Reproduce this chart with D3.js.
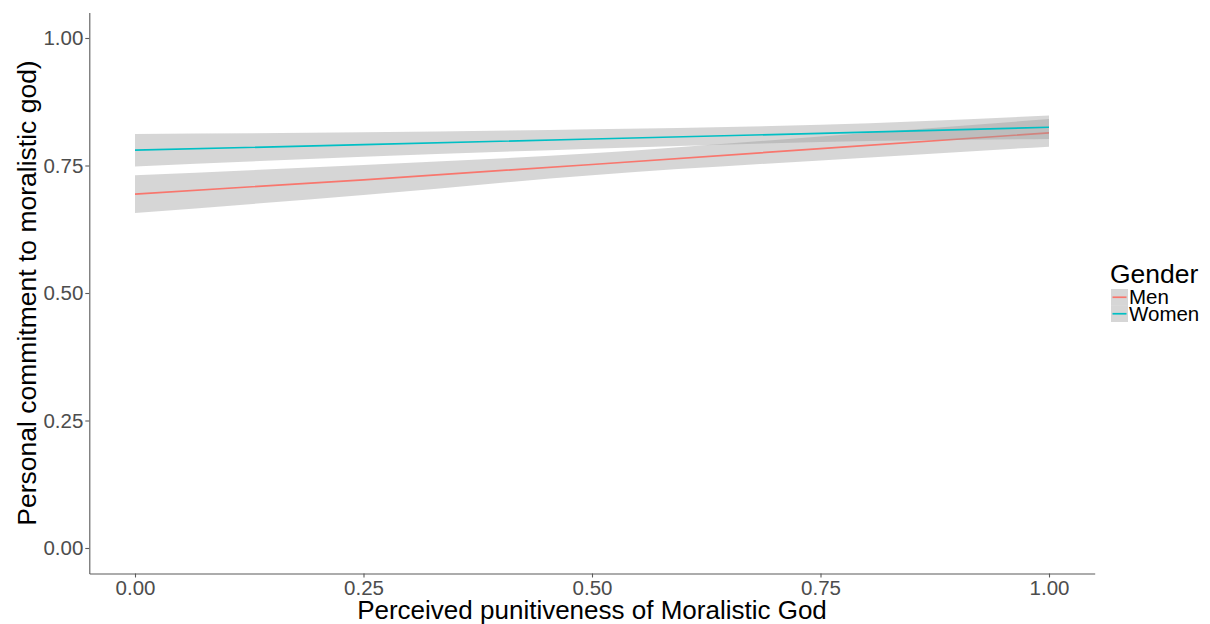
<!DOCTYPE html>
<html>
<head>
<meta charset="utf-8">
<script src="https://cdn.jsdelivr.net/npm/d3@7"></script>
<style>
  html, body { margin: 0; padding: 0; background: #fff; }
  svg { display: block; font-family: "Liberation Sans", Arial, sans-serif; }
</style>
</head>
<body>
<svg id="chart" width="1210" height="624"></svg>
<script>
// Fitted linear trends of commitment vs. perceived punitiveness, with 95% bands
const xVals      = [0, 0.25, 0.5, 0.75, 1];
const menFit     = [0.694, 0.722, 0.752, 0.783, 0.814];
const menLower   = [0.657, 0.692, 0.731, 0.760, 0.787];
const menUpper   = [0.731, 0.751, 0.774, 0.807, 0.841];
const womenFit   = [0.780, 0.791, 0.802, 0.813, 0.825];
const womenLower = [0.748, 0.767, 0.783, 0.796, 0.802];
const womenUpper = [0.812, 0.815, 0.821, 0.830, 0.848];

const groups = ["Men", "Women"];
const groupColors = ["#F8766D", "#00BFC4"];
const xTicks = [0, 0.25, 0.5, 0.75, 1];
const yTicks = [0, 0.25, 0.5, 0.75, 1];

const series = [
  { name: groups[0], color: groupColors[0], fit: menFit, lo: menLower, hi: menUpper },
  { name: groups[1], color: groupColors[1], fit: womenFit, lo: womenLower, hi: womenUpper }
];

const svg = d3.select("#chart");
const panel = { left: 89.3, right: 1094.7, top: 12.5, bottom: 573.5 };

const x = d3.scaleLinear().domain([-0.05, 1.05]).range([panel.left, panel.right]);
const y = d3.scaleLinear().domain([-0.05, 1.05]).range([panel.bottom, panel.top]);

const axisColor = "#5a5a5a";
const tickTextColor = "#4D4D4D";

// Bands and lines, drawn group by group
const area = d3.area()
  .x((d, i) => x(xVals[i]))
  .y0(d => y(d[0]))
  .y1(d => y(d[1]))
  .curve(d3.curveMonotoneX);
const line = d3.line()
  .x((d, i) => x(xVals[i]))
  .y(d => y(d))
  .curve(d3.curveLinear);

const plot = svg.append("g");
series.forEach(s => {
  plot.append("path")
    .datum(s.lo.map((v, i) => [v, s.hi[i]]))
    .attr("d", area)
    .attr("fill", "#999999")
    .attr("fill-opacity", 0.4);
  plot.append("path")
    .datum(s.fit)
    .attr("d", line)
    .attr("fill", "none")
    .attr("stroke", s.color)
    .attr("stroke-width", 1.7);
});

// Axes
const fmt = d3.format(".2f");
const gx = svg.append("g")
  .attr("transform", `translate(0,${panel.bottom})`)
  .call(d3.axisBottom(x).tickValues(xTicks).tickFormat(fmt).tickSize(4).tickSizeOuter(0).tickPadding(3));
const gy = svg.append("g")
  .attr("transform", `translate(${panel.left},0)`)
  .call(d3.axisLeft(y).tickValues(yTicks).tickFormat(fmt).tickSize(4).tickSizeOuter(0).tickPadding(2));

[gx, gy].forEach(g => {
  g.select(".domain").attr("stroke", axisColor).attr("stroke-width", 1.1);
  g.selectAll(".tick line").attr("stroke", axisColor).attr("stroke-width", 1.1);
  g.selectAll(".tick text")
    .attr("fill", tickTextColor)
    .style("font-size", "20.5px")
    .style("font-family", "'Liberation Sans', Arial, sans-serif");
});

// Axis titles
svg.append("text")
  .attr("x", (panel.left + panel.right) / 2)
  .attr("y", 619)
  .attr("text-anchor", "middle")
  .style("font-size", "26px")
  .attr("fill", "#000")
  .text("Perceived punitiveness of Moralistic God");

svg.append("text")
  .attr("transform", `translate(36,${(panel.top + panel.bottom) / 2}) rotate(-90)`)
  .attr("text-anchor", "middle")
  .style("font-size", "26.5px")
  .attr("fill", "#000")
  .text("Personal commitment to moralistic god)");

// Legend
const legend = svg.append("g").attr("transform", "translate(1110,0)");
legend.append("text")
  .attr("x", 0)
  .attr("y", 283)
  .style("font-size", "26.5px")
  .attr("fill", "#000")
  .text("Gender");

const keyTop = 289, keyH = 16.5, keyW = 17;
series.forEach((s, i) => {
  const ky = keyTop + i * keyH;
  legend.append("rect")
    .attr("x", 1).attr("y", ky)
    .attr("width", keyW).attr("height", keyH)
    .attr("fill", "#999999").attr("fill-opacity", 0.4);
  legend.append("line")
    .attr("x1", 2.5).attr("x2", keyW - 0.5)
    .attr("y1", ky + keyH / 2).attr("y2", ky + keyH / 2)
    .attr("stroke", s.color).attr("stroke-width", 1.7);
  legend.append("text")
    .attr("x", 19)
    .attr("y", ky + keyH / 2 + 7)
    .style("font-size", "20.5px")
    .attr("fill", "#000")
    .text(s.name);
});
</script>
</body>
</html>
